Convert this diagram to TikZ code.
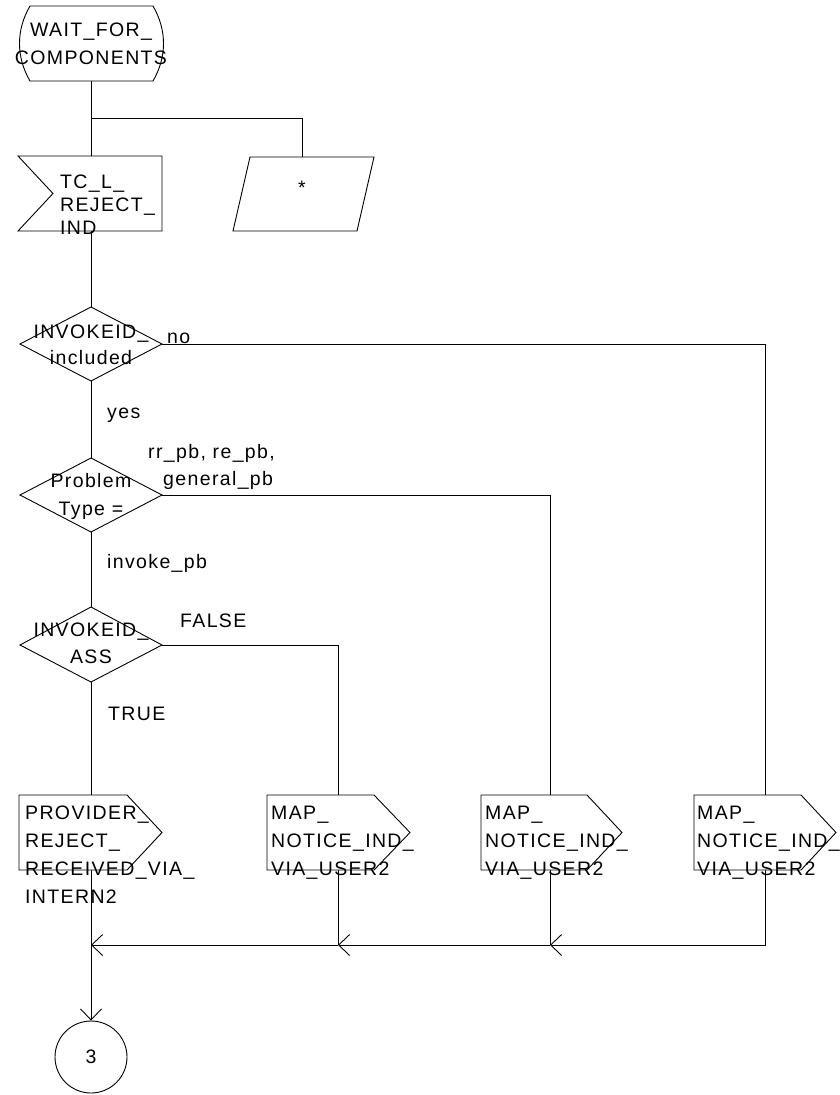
\documentclass[tikz,border=0pt]{standalone}
\usepackage{fontspec}
\setmainfont{Liberation Sans}[LetterSpace=7]
\usetikzlibrary{arrows.meta}
\begin{document}
\begin{tikzpicture}[x=1pt,y=-1pt,
  line/.style={line width=0.9pt, draw=black},
  sdlshape/.style={line width=0.9pt, draw=black, fill=white},
  txt/.style={inner sep=0pt, font=\fontsize{19.5}{28}\selectfont, align=left},
  flow/.style={line width=0.9pt, draw=black, -{Straight Barb[length=11pt,width=21pt]}},
]
\useasboundingbox (0,0) rectangle (840,1095);

% ---------- coordinates ----------
\coordinate (st-s) at (91,81);
\coordinate (j1) at (91,118);
\coordinate (j1r) at (302,118);
\coordinate (par-n) at (302,157);
\coordinate (tc-n) at (91,156);
\coordinate (tc-s) at (91,231);
\coordinate (d1-n) at (91,307);
\coordinate (d1-e) at (162,344);
\coordinate (d1-s) at (91,381);
\coordinate (c-no) at (765,344);
\coordinate (d2-n) at (91,458);
\coordinate (d2-e) at (162,495);
\coordinate (d2-s) at (91,532);
\coordinate (c-pb) at (550,495);
\coordinate (d3-n) at (91,607);
\coordinate (d3-e) at (162,645);
\coordinate (d3-s) at (91,682);
\coordinate (c-false) at (338,645);
\coordinate (o1-n) at (91,795);
\coordinate (o2-n) at (338,795);
\coordinate (o3-n) at (550,795);
\coordinate (o4-n) at (765,795);
\coordinate (o1-s) at (91,870);
\coordinate (o2-s) at (338,870);
\coordinate (o3-s) at (550,870);
\coordinate (o4-s) at (765,870);
\coordinate (m1) at (91,945);
\coordinate (m2) at (338,945);
\coordinate (m3) at (550,945);
\coordinate (m4) at (765,945);

% ---------- connectors ----------
\draw[line] (st-s) -- (tc-n);
\draw[line] (j1) -- (j1r) -- (par-n);
\draw[line] (tc-s) -- (d1-n);
\draw[line] (d1-e) -- (c-no) -- (o4-n);
\draw[line] (d1-s) -- (d2-n);
\draw[line] (d2-e) -- (c-pb) -- (o3-n);
\draw[line] (d2-s) -- (d3-n);
\draw[line] (d3-e) -- (c-false) -- (o2-n);
\draw[line] (d3-s) -- (o1-n);
\draw[line] (o1-s) -- (m1);
\draw[line] (o2-s) -- (m2);
\draw[line] (o3-s) -- (m3);
\draw[flow] (o4-s) -- (m4) -- (m3);
\draw[flow] (m3) -- (m2);
\draw[flow] (m2) -- (m1);

% ---------- shapes ----------
% state
\draw[sdlshape] (30,6) -- (153,6) .. controls (167,30) and (167,57) .. (153,81)
  -- (30,81) .. controls (16,57) and (16,30) .. (30,6);
% input
\draw[sdlshape] (18,156) -- (162,156) -- (162,231) -- (18,231) -- (53,193.5) -- cycle;
% any-signal parallelogram
\draw[sdlshape] (250,157) -- (374,157) -- (357,231) -- (233,231) -- cycle;
% decisions
\draw[sdlshape] (20,344) -- (d1-n) -- (d1-e) -- (d1-s) -- cycle;
\draw[sdlshape] (20,495) -- (d2-n) -- (d2-e) -- (d2-s) -- cycle;
\draw[sdlshape] (20,645) -- (d3-n) -- (d3-e) -- (d3-s) -- cycle;
% outputs
\draw[sdlshape] (19,795) -- (127,795) -- (162,832.5) -- (127,870) -- (19,870) -- cycle;
\draw[sdlshape] (267,795) -- (374,795) -- (410,832.5) -- (374,870) -- (267,870) -- cycle;
\draw[sdlshape] (481,795) -- (587,795) -- (622,832.5) -- (587,870) -- (481,870) -- cycle;
\draw[sdlshape] (694,795) -- (801,795) -- (836,832.5) -- (801,870) -- (694,870) -- cycle;
% connector
\node[circle, draw, line width=0.9pt, minimum size=72pt, inner sep=0pt,
      font=\fontsize{19.5}{28}\selectfont] (c3) at (91,1057) {3};
\draw[flow] (m1) -- (c3.north);

% ---------- texts ----------
\node[txt, align=center, anchor=north] (stT) at (91,23) {WAIT\_FOR\_\\COMPONENTS};
\node[txt, anchor=north west, font=\fontsize{19.5}{23}\selectfont] (tcT) at (60,175) {TC\_L\_\\REJECT\_\\IND};
\node[txt] (star) at (302,188) {*};
\node[txt, align=center, anchor=north, font=\fontsize{19.5}{26}\selectfont] (d1T) at (91,325) {INVOKEID\_\\included};
\node[txt, align=center, anchor=north] (d2T) at (91,473) {Problem\\Type =};
\node[txt, align=center, anchor=north, font=\fontsize{19.5}{27}\selectfont] (d3T) at (91,623) {INVOKEID\_\\ASS};
\node[txt, anchor=base west] (lno) at (167,343) {no};
\node[txt, anchor=base west] (lyes) at (107,418) {yes};
\node[txt, anchor=base west] (lrr) at (148,458) {rr\_pb, re\_pb,};
\node[txt, anchor=base west] (lgen) at (163,485) {general\_pb};
\node[txt, anchor=base west] (linv) at (107,568) {invoke\_pb};
\node[txt, anchor=base west] (lfalse) at (180,627) {FALSE};
\node[txt, anchor=base west] (ltrue) at (108,720) {TRUE};
\node[txt, anchor=north west] (o1T) at (25,805.5) {PROVIDER\_\\REJECT\_\\RECEIVED\_VIA\_\\INTERN2};
\node[txt, anchor=north west] (o2T) at (271,805.5) {MAP\_\\NOTICE\_IND\_\\VIA\_USER2};
\node[txt, anchor=north west] (o3T) at (485,805.5) {MAP\_\\NOTICE\_IND\_\\VIA\_USER2};
\node[txt, anchor=north west] (o4T) at (697,805.5) {MAP\_\\NOTICE\_IND\_\\VIA\_USER2};
\end{tikzpicture}
\end{document}
